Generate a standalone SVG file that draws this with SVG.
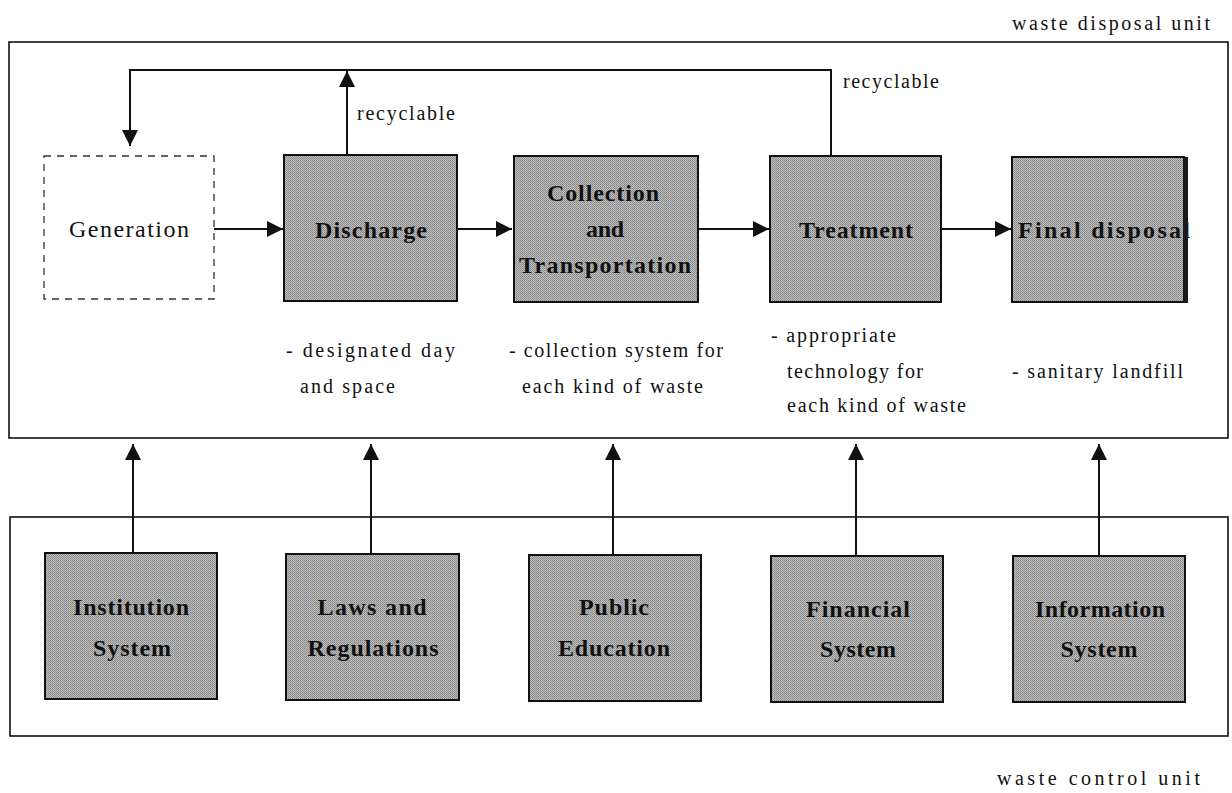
<svg xmlns="http://www.w3.org/2000/svg" width="1232" height="793" viewBox="0 0 1232 793">
<style>
.frame{fill:none;stroke:#111;stroke-width:1.6}
.box{fill:url(#dither);stroke:#111;stroke-width:2}
.dash{fill:#fff;stroke:#333;stroke-width:1.3;stroke-dasharray:7 6}
.line{fill:none;stroke:#111;stroke-width:2}
.lbl{font-family:"Liberation Serif","Times New Roman",serif;font-size:24px;font-weight:bold;fill:#111;text-anchor:middle}
.txt{font-family:"Liberation Serif","Times New Roman",serif;font-size:20px;fill:#111}
.gen{font-family:"Liberation Serif","Times New Roman",serif;font-size:24px;fill:#111;text-anchor:middle}
</style>
<defs>
<pattern id="dither" width="2" height="2" patternUnits="userSpaceOnUse">
<rect width="2" height="2" fill="#bdbdbd"/>
<rect width="1" height="1" fill="#858585"/>
<rect x="1" y="1" width="1" height="1" fill="#949494"/>
</pattern>
<marker id="ahb" viewBox="0 0 10 10" refX="10" refY="5" markerWidth="16" markerHeight="16" markerUnits="userSpaceOnUse" orient="auto">
<path d="M0,0 L10,5 L0,10 Z" fill="#111"/>
</marker>
</defs>
<rect width="1232" height="793" fill="#fff"/>

<g id="disposal-unit">
<rect class="frame" x="9" y="42" width="1219" height="396"/>
<text class="txt" x="1012" y="30" textLength="198" lengthAdjust="spacing">waste disposal unit</text>
</g>
<g id="control-unit">
<rect class="frame" x="10" y="517" width="1218" height="219"/>
<text class="txt" x="997" y="785" textLength="203" lengthAdjust="spacing">waste control unit</text>
</g>

<g id="connectors">
<path class="line" d="M213,229 H283" marker-end="url(#ahb)"/>
<path class="line" d="M457,229 H512" marker-end="url(#ahb)"/>
<path class="line" d="M698,229 H769" marker-end="url(#ahb)"/>
<path class="line" d="M941,229 H1011" marker-end="url(#ahb)"/>
<path class="line" d="M347,155 V71" marker-end="url(#ahb)"/>
<path class="line" d="M831,155 V70 H130 V146" marker-end="url(#ahb)"/>
<path class="line" d="M133,553 V444" marker-end="url(#ahb)"/>
<path class="line" d="M371,553 V444" marker-end="url(#ahb)"/>
<path class="line" d="M613,555 V444" marker-end="url(#ahb)"/>
<path class="line" d="M856,555 V444" marker-end="url(#ahb)"/>
<path class="line" d="M1099,556 V444" marker-end="url(#ahb)"/>
<text class="txt" x="357" y="120" textLength="98" lengthAdjust="spacing">recyclable</text>
<text class="txt" x="843" y="88" textLength="96" lengthAdjust="spacing">recyclable</text>
</g>

<g id="generation">
<rect class="dash" x="44" y="156" width="170" height="143"/>
<text class="gen" x="129" y="237" textLength="120" lengthAdjust="spacing">Generation</text>
</g>
<g id="discharge">
<rect class="box" x="284" y="155" width="173" height="146"/>
<text class="lbl" x="371" y="238" textLength="112" lengthAdjust="spacing">Discharge</text>
</g>
<g id="collection">
<rect class="box" x="514" y="156" width="184" height="146"/>
<text class="lbl" x="603" y="201" textLength="112" lengthAdjust="spacing">Collection</text>
<text class="lbl" x="605" y="237" textLength="38" lengthAdjust="spacing">and</text>
<text class="lbl" x="605" y="273" textLength="172" lengthAdjust="spacing">Transportation</text>
</g>
<g id="treatment">
<rect class="box" x="770" y="156" width="171" height="146"/>
<text class="lbl" x="856" y="238" textLength="114" lengthAdjust="spacing">Treatment</text>
</g>
<g id="final-disposal">
<rect class="box" x="1012" y="157" width="172" height="145"/>
<text class="lbl" x="1018" y="238" style="text-anchor:start" textLength="172" lengthAdjust="spacing">Final disposal</text>
<rect x="1183" y="157" width="5" height="146" fill="#1a1a1a"/>
</g>

<g id="notes">
<text class="txt" x="286" y="357" textLength="169" lengthAdjust="spacing">- designated day</text>
<text class="txt" x="300" y="393" textLength="95" lengthAdjust="spacing">and space</text>
<text class="txt" x="509" y="357" textLength="214" lengthAdjust="spacing">- collection system for</text>
<text class="txt" x="522" y="393" textLength="181" lengthAdjust="spacing">each kind of waste</text>
<text class="txt" x="771" y="342" textLength="125" lengthAdjust="spacing">- appropriate</text>
<text class="txt" x="787" y="378" textLength="136" lengthAdjust="spacing">technology for</text>
<text class="txt" x="787" y="412" textLength="179" lengthAdjust="spacing">each kind of waste</text>
<text class="txt" x="1012" y="378" textLength="171" lengthAdjust="spacing">- sanitary landfill</text>
</g>

<g id="institution">
<rect class="box" x="45" y="553" width="172" height="146"/>
<text class="lbl" x="131" y="615" textLength="116" lengthAdjust="spacing">Institution</text>
<text class="lbl" x="132" y="656" textLength="78" lengthAdjust="spacing">System</text>
</g>
<g id="laws">
<rect class="box" x="286" y="554" width="173" height="146"/>
<text class="lbl" x="372" y="615" textLength="109" lengthAdjust="spacing">Laws and</text>
<text class="lbl" x="373" y="656" textLength="131" lengthAdjust="spacing">Regulations</text>
</g>
<g id="public-education">
<rect class="box" x="529" y="555" width="172" height="146"/>
<text class="lbl" x="614" y="615" textLength="70" lengthAdjust="spacing">Public</text>
<text class="lbl" x="614" y="656" textLength="112" lengthAdjust="spacing">Education</text>
</g>
<g id="financial">
<rect class="box" x="771" y="556" width="172" height="146"/>
<text class="lbl" x="858" y="617" textLength="104" lengthAdjust="spacing">Financial</text>
<text class="lbl" x="858" y="657" textLength="76" lengthAdjust="spacing">System</text>
</g>
<g id="information">
<rect class="box" x="1013" y="556" width="172" height="146"/>
<text class="lbl" x="1100" y="617" textLength="130" lengthAdjust="spacing">Information</text>
<text class="lbl" x="1099" y="657" textLength="77" lengthAdjust="spacing">System</text>
</g>
</svg>
